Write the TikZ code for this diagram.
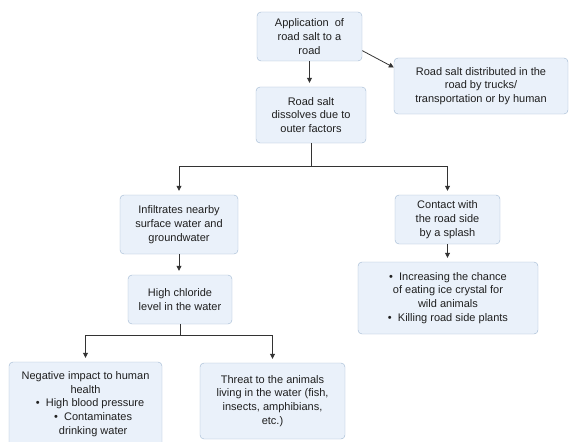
\documentclass[tikz,border=0pt]{standalone}
\usepackage{fontspec}
\setmainfont{Liberation Sans}
\usepackage{tikz}
\usetikzlibrary{calc,arrows.meta,positioning}

\definecolor{boxfill}{HTML}{EAF1FA}
\definecolor{boxline}{HTML}{9FB6D1}
\definecolor{linkgray}{HTML}{333333}

\begin{document}
\begin{tikzpicture}[>={Triangle[length=5pt,width=5pt]},x=1pt,y=-1pt,
  box/.style={draw=boxline,fill=boxfill,rounded corners=4pt,align=center,inner sep=2pt,
    font=\fontsize{11}{13.8}\selectfont,text=black!88},
  link/.style={draw=linkgray,line width=0.8pt},
  tolink/.style={link,->,shorten >=4pt}]
\useasboundingbox (0,0) rectangle (569,441);
\node[box,minimum width=105pt,minimum height=49pt] (app) at (309.5,36.5) {Application~~of\\road salt to a\\road};
\node[box,minimum width=174pt,minimum height=56pt] (spread) at (481,86) {Road salt distributed in the\\road by trucks/\\transportation or by human};
\node[box,minimum width=110pt,minimum height=56pt] (dissolve) at (311,115) {Road salt\\dissolves due to\\outer factors};
\node[box,minimum width=118pt,minimum height=59pt] (infil) at (179,224.5) {Infiltrates nearby\\surface water and\\groundwater};
\node[box,minimum width=104pt,minimum height=49pt] (chloride) at (180,299.5) {High chloride\\level in the water};
\node[box,minimum width=105pt,minimum height=49pt] (contact) at (447.5,219.5) {Contact with\\the road side\\by a splash};
\node[box,minimum width=180pt,minimum height=72pt] (effect) at (448,298) {\textbullet\ \ Increasing the chance\\of eating ice crystal for\\wild animals\\\textbullet\ \ Killing road side plants};
\node[box,minimum width=153pt,minimum height=84pt] (human) at (85.5,404) {Negative impact to human\\health\\\ \ \ \textbullet\ \ High blood pressure\\\ \ \ \ \ \textbullet\ \ Contaminates\\\ \ \ \ \ drinking water};
\node[box,minimum width=145pt,minimum height=76pt] (animal) at (272.5,401) {Threat to the animals\\living in the water (fish,\\insects, amphibians,\\etc.)};

% branch points
\coordinate (split) at (311,166);
\coordinate (split2) at (180,335);

\draw[tolink] (app.south) -- (app.south |- dissolve.north);
\draw[link,->] (app.-15) -- (spread.168);
\draw[link] (dissolve.south) -- (split);
\draw[tolink] (split) -| (infil.north);
\draw[tolink] (split) -| (contact.north);
\draw[tolink] (infil.south) -- (infil.south |- chloride.north);
\draw[tolink] (contact.south) -- (contact.south |- effect.north);
\draw[link] (chloride.south) -- (split2);
\draw[tolink] (split2) -| (human.north);
\draw[tolink] (split2) -| (animal.north);
\end{tikzpicture}
\end{document}
